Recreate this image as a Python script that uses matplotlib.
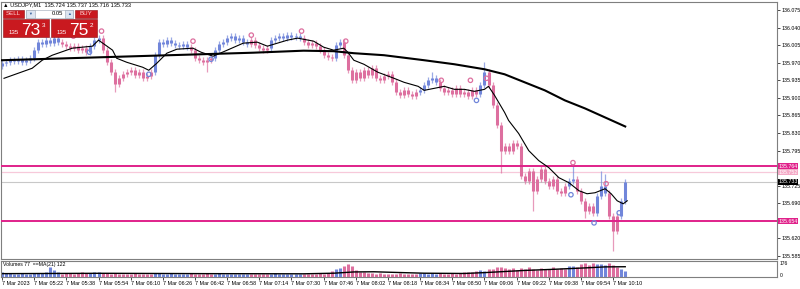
import matplotlib
matplotlib.use("Agg")
import matplotlib.pyplot as plt
import numpy as np
from matplotlib.patches import Rectangle
from matplotlib.transforms import blended_transform_factory

plt.rcParams["font.family"] = ["Liberation Sans", "DejaVu Sans"]

# ── Data (USDJPY, M1, 7 Mar 2023) ────────────────────────────────────────────
# one value per 2-minute slot, starting 05:06
closes = [
    135.969, 135.971, 135.975, 135.973, 135.977, 135.971, 135.975, 135.979,
    135.995, 136.011, 136.007, 136.015, 136.009, 136.019, 136.011, 136.007,
    136.003, 135.999, 136.003, 135.995, 135.999, 135.991, 136.003, 136.015,
    136.019, 135.995, 135.971, 135.951, 135.927, 135.939, 135.947, 135.951,
    135.955, 135.945, 135.951, 135.939, 135.943, 135.951, 135.985, 136.011,
    136.007, 136.015, 136.009, 136.005, 136.003, 136.007, 136.001, 135.995,
    135.979, 135.975, 135.971, 135.975, 135.979, 135.995, 136.007, 136.011,
    136.019, 136.023, 136.015, 136.019, 136.011, 136.007, 136.015, 136.005,
    135.999, 135.995, 135.999, 136.015, 136.019, 136.023, 136.019, 136.025,
    136.021, 136.023, 136.019, 136.011, 136.005, 136.009, 136.003, 135.995,
    135.985, 135.981, 135.979, 136.005, 136.011, 135.985, 135.955, 135.935,
    135.951, 135.939, 135.955, 135.945, 135.959, 135.939, 135.935, 135.943,
    135.947, 135.931, 135.911, 135.905, 135.915, 135.907, 135.903, 135.911,
    135.915, 135.925, 135.935, 135.939, 135.931, 135.919, 135.911, 135.915,
    135.907, 135.919, 135.907, 135.911, 135.903, 135.915, 135.907, 135.925,
    135.951, 135.925, 135.885, 135.845, 135.795, 135.805, 135.795, 135.811,
    135.805, 135.745, 135.735, 135.755, 135.715, 135.739, 135.759, 135.735,
    135.725, 135.739, 135.715, 135.711, 135.725, 135.735, 135.739, 135.715,
    135.695, 135.675, 135.685, 135.671, 135.705, 135.725, 135.711, 135.665,
    135.635, 135.665, 135.695, 135.733,
]
first_open = 135.963
# (bar index, price) for the longer wicks
spike_highs = [(107, 135.951), (120, 135.971), (142, 135.769), (149, 135.755),
               (150, 135.749), (155, 135.739)]
spike_lows = [(28, 135.911), (51, 135.951), (124, 135.751), (132, 135.675),
              (145, 135.661), (152, 135.595)]
# runs of bars drawn in the "up" colour (first, last bar index)
up_runs = [(0, 14), (22, 24), (38, 46), (53, 61), (67, 74), (83, 84),
           (104, 108), (119, 120), (141, 142), (148, 150), (154, 155)]

volumes = [
    55, 50, 45, 40, 38, 42, 35, 40, 45, 50, 45, 55, 120, 80, 65, 40,
    45, 50, 40, 45, 55, 50, 45, 60, 55, 50, 45, 40, 45, 40, 35, 40,
    38, 45, 40, 35, 32, 40, 50, 45, 40, 38, 45, 35, 40, 32, 38, 45,
    40, 35, 38, 42, 36, 40, 45, 38, 35, 40, 32, 38, 36, 34, 40, 35,
    32, 38, 40, 35, 45, 40, 38, 35, 32, 36, 34, 38, 40, 35, 38, 42,
    40, 50, 70, 90, 105, 135, 150, 125, 80, 60, 55, 50, 45, 40, 45, 40,
    38, 35, 40, 45, 38, 35, 40, 36, 50, 45, 40, 42, 38, 45, 40, 38,
    45, 40, 50, 55, 60, 65, 75, 80, 70, 95, 100, 115, 120, 105, 95, 110,
    85, 105, 90, 115, 100, 85, 105, 95, 90, 115, 100, 105, 95, 125, 135, 115,
    150, 165, 140, 172, 160, 150, 145, 165, 140, 120, 100, 77,
]

# moving averages (minutes after 05:06, price)
ma_fast_t = [1, 15, 20, 25, 35, 45, 48, 55, 57, 62, 70, 73, 77, 82, 87, 95, 99,
             105, 112, 120, 127, 132, 137, 142, 147, 155, 160, 165, 170, 172,
             175, 180, 187, 195, 200, 207, 210, 215, 220, 225, 230, 235, 240,
             242, 245, 250, 252, 257, 262, 267, 272, 277, 282, 287, 291, 295,
             300, 303, 306, 309, 311]
ma_fast_p = [135.939, 135.959, 135.975, 135.985, 135.999, 136.003, 136.015,
             135.995, 135.979, 135.971, 135.961, 135.955, 135.969, 135.989,
             135.997, 135.999, 135.991, 135.983, 135.995, 136.009, 136.011,
             136.003, 136.009, 136.015, 136.019, 136.013, 136.001, 135.995,
             135.999, 135.991, 135.975, 135.967, 135.951, 135.939, 135.931,
             135.923, 135.915, 135.919, 135.923, 135.917, 135.917, 135.913,
             135.917, 135.923, 135.905, 135.871, 135.855, 135.829, 135.795,
             135.775, 135.761, 135.741, 135.731, 135.715, 135.709, 135.711,
             135.719, 135.709, 135.695, 135.689, 135.695]
ma_slow_t = [0, 25, 50, 75, 100, 125, 150, 165, 175, 190, 210, 225, 240, 250,
             260, 270, 280, 290, 300, 310]
ma_slow_p = [135.975, 135.978, 135.981, 135.984, 135.987, 135.990, 135.994,
             135.993, 135.989, 135.985, 135.975, 135.967, 135.957, 135.947,
             135.931, 135.915, 135.895, 135.879, 135.861, 135.843]
vol_ma_t = [0, 50, 100, 150, 165, 175, 185, 195, 210, 230, 240, 250, 260, 275,
            290, 300, 310]
vol_ma_v = [40, 44, 40, 38, 45, 60, 62, 55, 45, 42, 52, 65, 78, 92, 108, 120, 122]

# fractal arrows (minute, price)
fractal_up_t = [35.5, 49.5, 95, 124, 149, 171, 218.5, 233, 241, 284, 300.5]
fractal_up_p = [136.019, 136.029, 136.009, 136.021, 136.029, 136.009, 135.931,
                135.931, 135.935, 135.767, 135.725]
fractal_dn_t = [43.5, 73, 104, 236, 283, 294.5, 307]
fractal_dn_p = [135.995, 135.951, 135.981, 135.899, 135.711, 135.655, 135.675]

level_lines = [135.764, 135.654]
ask, bid = 135.752, 135.733
price_ticks = [136.075, 136.040, 136.005, 135.970, 135.935, 135.900, 135.865,
               135.830, 135.795, 135.725, 135.690, 135.620, 135.585]
time_ticks = [0, 16, 32, 48, 64, 80, 96, 112, 128, 144, 160, 176, 192, 208,
              224, 240, 256, 272, 288, 304]
time_labels = ["7 Mar 2023", "7 Mar 05:22", "7 Mar 05:38", "7 Mar 05:54",
               "7 Mar 06:10", "7 Mar 06:26", "7 Mar 06:42", "7 Mar 06:58",
               "7 Mar 07:14", "7 Mar 07:30", "7 Mar 07:46", "7 Mar 08:02",
               "7 Mar 08:18", "7 Mar 08:34", "7 Mar 08:50", "7 Mar 09:06",
               "7 Mar 09:22", "7 Mar 09:38", "7 Mar 09:54", "7 Mar 10:10"]

# ── Style ────────────────────────────────────────────────────────────────────
UP = "#7186da"
DOWN = "#dd6f9f"
MAGENTA = "#e0218a"
FRAME = "#7f7f7f"
RED = "#c9191f"
FS = 3.9

W, H = 800, 289
fig = plt.figure(figsize=(W / 100, H / 100), dpi=100)
fig.patch.set_facecolor("white")

ax = fig.add_axes([1 / W, 1 - 258.5 / H, 776 / W, 256.5 / H])
axv = fig.add_axes([1 / W, 1 - 277 / H, 776 / W, 16 / H])

n = len(closes)
t = np.arange(n) * 2
c = np.array(closes)
o = np.r_[first_open, c[:-1]]
colors = [DOWN] * n
for a, b in up_runs:
    for i in range(a, b + 1):
        colors[i] = UP

body_lo = np.minimum(o, c)
body_hi = np.maximum(o, c)
body_hi = np.where(body_hi - body_lo < 0.003, body_lo + 0.003, body_hi)
hi = body_hi + 0.006
lo = body_lo - 0.006
for i, p in spike_highs:
    hi[i] = p
for i, p in spike_lows:
    lo[i] = p

ax.vlines(t, lo, hi, colors=colors, linewidth=0.9, alpha=0.7, zorder=2)
ax.vlines(t, body_lo, body_hi, colors=colors, linewidth=2.2, zorder=2)

ax.plot(ma_slow_t, ma_slow_p, color="black", linewidth=1.5, zorder=4)
ax.plot(ma_fast_t, ma_fast_p, color="black", linewidth=0.8, zorder=4)

ax.scatter(fractal_up_t, np.array(fractal_up_p) + 0.004, s=10, marker="o",
           facecolors="none", edgecolors=DOWN, linewidths=0.9, zorder=5)
ax.scatter(fractal_dn_t, np.array(fractal_dn_p) - 0.004, s=10, marker="o",
           facecolors="none", edgecolors=UP, linewidths=0.9, zorder=5)

for lv in level_lines:
    ax.axhline(lv, color=MAGENTA, linewidth=1.4, zorder=3)
ax.axhline(ask, color="#f7c9da", linewidth=0.9, zorder=1)
ax.axhline(bid, color="#c8c8c8", linewidth=0.8, zorder=1)

ax.set_xlim(-0.5, 385.5)
ax.set_ylim(135.580, 136.091)
ax.set_xticks([])
ax.yaxis.tick_right()
ax.set_yticks(price_ticks)
ax.set_yticklabels([f"{v:.3f}" for v in price_ticks])
ax.tick_params(axis="y", length=2, width=0.5, labelsize=FS - 0.1, pad=1.0,
               colors="black")
for s in ax.spines.values():
    s.set_color(FRAME)
    s.set_linewidth(0.8)

# price boxes on the right axis
tr = blended_transform_factory(ax.transAxes, ax.transData)
for val, bg in [(level_lines[0], MAGENTA), (ask, "#f4a9c6"), (bid, "black"),
                (level_lines[1], MAGENTA)]:
    ax.text(1.002, val, f"{val:.3f}", transform=tr, fontsize=FS - 0.1,
            color="white", va="center", ha="left", clip_on=False, zorder=6,
            bbox=dict(boxstyle="square,pad=0.1", fc=bg, ec="none"))

# volumes
axv.vlines(t, 0, volumes, colors=colors, linewidth=2.2)
axv.plot(vol_ma_t, vol_ma_v, color="black", linewidth=1.0)
axv.set_xlim(-0.5, 385.5)
axv.set_ylim(0, 190)
axv.set_yticks([])
axv.set_xticks(time_ticks)
axv.set_xticklabels(time_labels, ha="left")
axv.tick_params(axis="x", length=2, width=0.5, labelsize=FS, pad=1.0)
for s in axv.spines.values():
    s.set_color(FRAME)
    s.set_linewidth(0.8)
axv.text(1.004, 0.82, "176", transform=axv.transAxes, fontsize=FS - 0.3, va="center")
axv.text(1.004, 0.12, "0", transform=axv.transAxes, fontsize=FS - 0.3, va="center")
axv.text(0.003, 0.8, f"Volumes {volumes[-1]}  ==MA(21) {vol_ma_v[-1]}",
         transform=axv.transAxes, fontsize=FS - 0.2, va="center")

# ── header + one-click trading panel (pixel overlay) ────────────────────────
ov = fig.add_axes([0, 0, 1, 1], zorder=10)
ov.set_xlim(0, W)
ov.set_ylim(H, 0)
ov.axis("off")
ov.text(3, 5, "\u25b2 USDJPY,M1  135.724 135.737 135.716 135.733", fontsize=FS + 0.2,
        va="center", ha="left")

ov.add_patch(Rectangle((3, 9.5), 21, 8.5, fc=RED, ec="#8e0c11", lw=0.4))
ov.text(13.5, 13.8, "SELL", color="#ffd6d6", fontsize=4.4, ha="center", va="center")
ov.add_patch(Rectangle((26, 9.5), 47, 8.5, fc="white", ec="#9aa4b4", lw=0.4))
ov.add_patch(Rectangle((26, 9.5), 9, 8.5, fc="#dce4f0", ec="#9aa4b4", lw=0.4))
ov.text(30.5, 13.8, "\u25bc", fontsize=2.8, color="#2f5c9a", ha="center", va="center")
ov.add_patch(Rectangle((65, 9.5), 8, 8.5, fc="#dce4f0", ec="#9aa4b4", lw=0.4))
ov.text(69, 13.8, "\u25b2", fontsize=2.8, color="#2f5c9a", ha="center", va="center")
ov.text(63.5, 13.8, "0.05", fontsize=4.2, ha="right", va="center")
ov.add_patch(Rectangle((75, 9.5), 22, 8.5, fc=RED, ec="#8e0c11", lw=0.4))
ov.text(86, 13.8, "BUY", color="#ffd6d6", fontsize=4.4, ha="center", va="center")

for x0, big, sup in [(3, "73", "3"), (51, "75", "2")]:
    ov.add_patch(Rectangle((x0, 19), 46, 18, fc=RED, ec="#8e0c11", lw=0.4))
    ov.text(x0 + 6, 34.5, "135", fontsize=4.4, color="white", va="baseline")
    ov.text(x0 + 18, 35, big, fontsize=12.5, color="white", va="baseline")
    ov.text(x0 + 38.5, 27, sup, fontsize=4.6, color="white", va="baseline")

fig.savefig("out.png", dpi=100, facecolor="white")
